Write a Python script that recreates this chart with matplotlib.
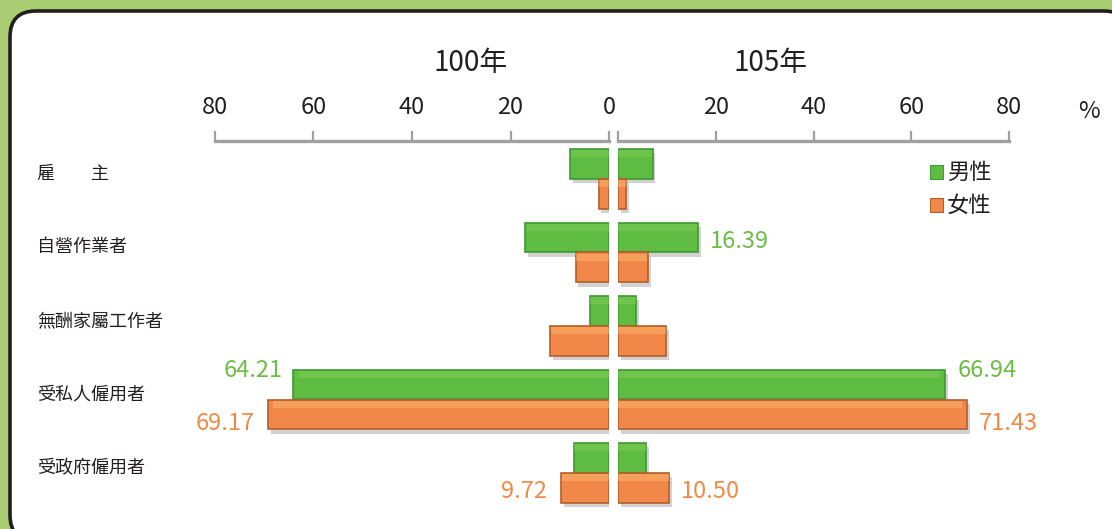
import matplotlib
matplotlib.use('Agg')
import matplotlib.pyplot as plt
from matplotlib.patches import FancyBboxPatch, Rectangle
from matplotlib.transforms import IdentityTransform, blended_transform_factory
import matplotlib.patheffects as pe
import numpy as np

# ---- data ----
categories = ['雇　　主', '自營作業者', '無酬家屬工作者', '受私人僱用者', '受政府僱用者']
male_100 = [7.9, 17.0, 3.9, 64.21, 7.2]
female_100 = [2.1, 6.8, 12.0, 69.17, 9.72]
male_105 = [7.1, 16.39, 3.7, 66.94, 5.8]
female_105 = [1.6, 6.1, 9.9, 71.43, 10.50]
ticks = [0, 20, 40, 60, 80]
tick_labels_left = ['0', '20', '40', '60', '80']
tick_labels_right = ['', '20', '40', '60', '80']
years = ['100年', '105年']
legend_labels = ['男性', '女性']
# which bars carry a value label
labelled_male_100 = [3]
labelled_female_100 = [3, 4]
labelled_male_105 = [1, 3]
labelled_female_105 = [3, 4]

plt.rcParams['font.family'] = ['Liberation Sans Narrow', 'Noto Sans CJK TC', 'DejaVu Sans']

W, H = 1112, 529
fig = plt.figure(figsize=(W / 100, H / 100), dpi=100)
fig.patch.set_facecolor('#a9cd72')

panel = FancyBboxPatch((10, -12), 1120, (H - 11) + 12,
                       boxstyle='round,pad=0,rounding_size=26',
                       transform=IdentityTransform(), facecolor='white',
                       edgecolor='#231f20', linewidth=2.6, zorder=-5)
fig.patches.append(panel)

GREEN, GREEN_E, GREEN_H = '#5fbc43', '#3e9a32', '#7dcb55'
ORANGE, ORANGE_E, ORANGE_H = '#f2874a', '#b0602c', '#fbb468'
GREEN_T, ORANGE_T = '#6bbd45', '#f08a48'
AXC = '#a0a0a0'

top_px = 141
ax_h = (H - top_px) / H
ax_l = fig.add_axes([215 / W, 0, (609 - 215) / W, ax_h])
ax_r = fig.add_axes([618 / W, 0, (1009 - 618) / W, ax_h])

y = np.arange(len(categories))
h = 0.408
row_px, row0 = 73.5, 179
ylim = ((H - row0) / row_px, (top_px - row0) / row_px)

shadow = [pe.SimplePatchShadow(offset=(2, -3), shadow_rgbFace='#808080', alpha=0.35), pe.Normal()]

def draw(ax, male, female, tlabels):
    for vals, off, fc, ec, hc in [(male, -h / 2, GREEN, GREEN_E, GREEN_H),
                                   (female, h / 2, ORANGE, ORANGE_E, ORANGE_H)]:
        bars = ax.barh(y + off, vals, height=h, color=fc, edgecolor=ec, linewidth=1.2, zorder=3)
        for b in bars:
            b.set_path_effects(shadow)
        hs = h * 0.22
        ax.barh(y + off - h / 2 + hs / 2 + 0.02, np.array(vals) * 0.985, height=hs,
                color=hc, alpha=0.55, linewidth=0, zorder=4)
    ax.set_ylim(*ylim)
    ax.set_xlim(0, 80)
    for s in ['left', 'right', 'bottom']:
        ax.spines[s].set_visible(False)
    ax.spines['top'].set_color(AXC)
    ax.spines['top'].set_linewidth(2.4)
    ax.xaxis.tick_top()
    ax.set_xticks(ticks)
    ax.set_xticklabels(tlabels)
    ax.tick_params(axis='x', direction='out', length=7, width=1.6, color=AXC,
                   pad=9, labelsize=17, labelcolor='#231f20')
    ax.set_yticks([])
    ax.patch.set_alpha(0)

draw(ax_l, male_100, female_100, tick_labels_left)
draw(ax_r, male_105, female_105, tick_labels_right)
ax_l.set_xlim(80, 0)

for i in labelled_male_100:
    ax_l.annotate(f'{male_100[i]:.2f}', xy=(male_100[i], y[i] - h / 2), xytext=(-10, 14),
                  textcoords='offset pixels', ha='right', va='center', color=GREEN_T, fontsize=17)
for i in labelled_female_100:
    dy = -9 if i == 3 else -4
    ax_l.annotate(f'{female_100[i]:.2f}', xy=(female_100[i], y[i] + h / 2), xytext=(-14, dy),
                  textcoords='offset pixels', ha='right', va='center', color=ORANGE_T, fontsize=17)
for i in labelled_male_105:
    dy = 14 if i == 3 else -4
    ax_r.annotate(f'{male_105[i]:.2f}', xy=(male_105[i], y[i] - h / 2), xytext=(12, dy),
                  textcoords='offset pixels', ha='left', va='center', color=GREEN_T, fontsize=17)
for i in labelled_female_105:
    dy = -9 if i == 3 else -4
    ax_r.annotate(f'{female_105[i]:.2f}', xy=(female_105[i], y[i] + h / 2), xytext=(12, dy),
                  textcoords='offset pixels', ha='left', va='center', color=ORANGE_T, fontsize=17)

# category labels
tr = blended_transform_factory(fig.transFigure, ax_l.transData)
for i, c in enumerate(categories):
    fig.text(37 / W, y[i] - 0.07, c, transform=tr, ha='left', va='center',
             fontsize=13, color='#231f20', family=['Noto Sans CJK TC'])

# year titles and unit
fig.text(471 / W, 1 - 63 / H, years[0], ha='center', va='center', fontsize=20, color='#231f20')
fig.text(771 / W, 1 - 63 / H, years[1], ha='center', va='center', fontsize=20, color='#231f20')
fig.text(1089 / W, 1 - 112 / H, '%', ha='center', va='center', fontsize=17, color='#231f20')

# legend
for k, (lbl, fc, ec) in enumerate(zip(legend_labels, [GREEN, ORANGE], [GREEN_E, ORANGE_E])):
    cy = 172 + 33 * k
    fig.patches.append(Rectangle((930, H - cy - 7), 13, 14, transform=IdentityTransform(),
                                 facecolor=fc, edgecolor=ec, linewidth=0.8))
    fig.text(947 / W, 1 - cy / H, lbl, ha='left', va='center', fontsize=16,
             color='#231f20', family=['Noto Sans CJK TC'])

fig.savefig('out.png', dpi=100, facecolor=fig.get_facecolor())
